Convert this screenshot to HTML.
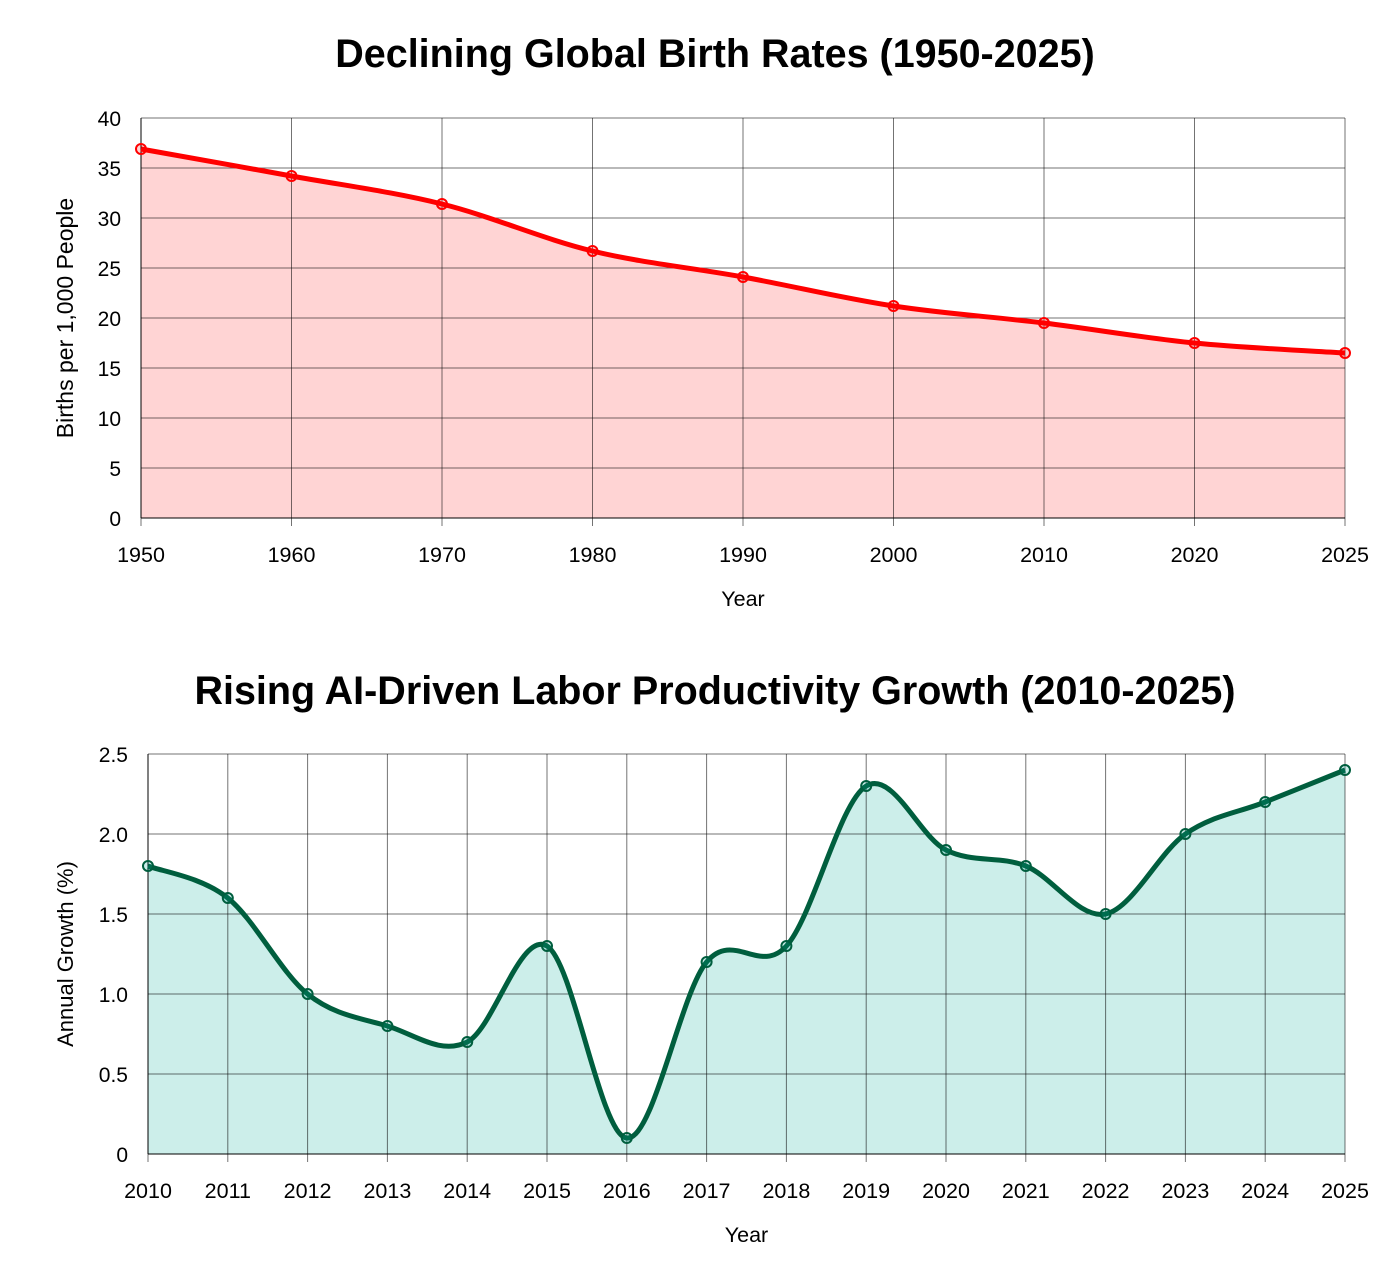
<!DOCTYPE html>
<html><head><meta charset="utf-8"><style>
body{margin:0;background:#fff;font-family:"Liberation Sans",Arial,sans-serif}
svg text{font-family:"Liberation Sans",Arial,sans-serif}
</style></head><body>
<svg id="c" width="1388" height="1261" xmlns="http://www.w3.org/2000/svg"></svg>
<script>
const years1 = ["1950","1960","1970","1980","1990","2000","2010","2020","2025"];
const births = [36.9,34.2,31.4,26.7,24.1,21.2,19.5,17.5,16.5];
const yTicks1 = [0,5,10,15,20,25,30,35,40];
const years2 = ["2010","2011","2012","2013","2014","2015","2016","2017","2018","2019","2020","2021","2022","2023","2024","2025"];
const growth = [1.8,1.6,1.0,0.8,0.7,1.3,0.1,1.2,1.3,2.3,1.9,1.8,1.5,2.0,2.2,2.4];
const yTicks2 = [0,0.5,1.0,1.5,2.0,2.5];
const yLabels2 = ["0","0.5","1.0","1.5","2.0","2.5"];

const NS="http://www.w3.org/2000/svg";
const svg=document.getElementById('c');
function mk(tag,attrs,parent){const e=document.createElementNS(NS,tag);for(const k in attrs)e.setAttribute(k,attrs[k]);(parent||svg).appendChild(e);return e;}
function curve(pts){
  let d=`M${pts[0][0]},${pts[0][1]}`;
  for(let i=0;i<pts.length-1;i++){
    const p0=pts[i-1]||pts[i],p1=pts[i],p2=pts[i+1],p3=pts[i+2]||p2;
    const c1=[p1[0]+(p2[0]-p0[0])/6,p1[1]+(p2[1]-p0[1])/6];
    const c2=[p2[0]-(p3[0]-p1[0])/6,p2[1]-(p3[1]-p1[1])/6];
    d+=`C${c1[0]},${c1[1]} ${c2[0]},${c2[1]} ${p2[0]},${p2[1]}`;
  }
  return d;
}
function chart(o){
  const g=mk('g',{});
  
  
  const n=o.cats.length;
  const x=i=>o.x0+(o.x1-o.x0)*i/(n-1);
  const y=v=>o.y1-(o.y1-o.y0)*(v-o.ymin)/(o.ymax-o.ymin);
  const t=mk('text',{x:o.tx,y:o.ty,'text-anchor':'middle','font-size':o.tfs,'font-weight':'bold',fill:'#000'},g);
  t.textContent=o.title;
  
  
  const pts=o.vals.map((v,i)=>[x(i),y(v)]);
  const d=curve(pts);
  const area=mk('path',{d:d+`L${x(n-1)},${y(o.ymin)}L${x(0)},${y(o.ymin)}Z`,fill:o.fill},g);
  
  
  o.ticks.forEach((tv,i)=>{
    const l=mk('line',{x1:o.x0,x2:o.x1,y1:y(tv),y2:y(tv),stroke:'#000','stroke-opacity':0.55,'stroke-width':1},g);
    
    
    const tx=mk('text',{x:o.x0-20,y:y(tv)+8,'text-anchor':'end','font-size':21,fill:'#000'},g);
    tx.textContent=o.tickLabels[i];
    
    
  });
  o.cats.forEach((c,i)=>{
    const l=mk('line',{x1:x(i),x2:x(i),y1:o.y0,y2:o.y1+8,stroke:'#000','stroke-opacity':0.55,'stroke-width':1},g);
    
    
    const tx=mk('text',{x:x(i),y:o.y1+44,'text-anchor':'middle','font-size':21.5,fill:'#000'},g);
    tx.textContent=c;
    
    
  });
  const ax=mk('line',{x1:o.x0,x2:o.x1,y1:o.y1,y2:o.y1,stroke:'#000','stroke-width':1},g);
  
  
  const ay=mk('line',{x1:o.x0,x2:o.x0,y1:o.y0,y2:o.y1,stroke:'#000','stroke-width':1},g);
  
  
  const line=mk('path',{d:d,fill:'none',stroke:o.stroke,'stroke-width':5},g);
  
  
  pts.forEach(p=>{
    const c=mk('circle',{cx:p[0],cy:p[1],r:5,fill:o.fill,stroke:o.stroke,'stroke-width':2},g);
    
    
  });
  const xt=mk('text',{x:(o.x0+o.x1)/2,y:o.y1+88,'text-anchor':'middle','font-size':21.5,fill:'#000'},g);
  xt.textContent='Year';
  
  
  const yc=(o.y0+o.y1)/2;
  const yt=mk('text',{x:o.ytx,y:yc,'text-anchor':'middle','font-size':o.yfs,fill:'#000',transform:`rotate(-90 ${o.ytx} ${yc})`},g);
  yt.textContent=o.ytitle;
  
  
}
chart({name:'birth-rate-chart',title:'Declining Global Birth Rates (1950-2025)',tx:715,ty:67,tfs:39.5,
  cats:years1,vals:births,ticks:yTicks1,tickLabels:yTicks1.map(String),ymin:0,ymax:40,
  x0:141,x1:1345,y0:118,y1:518,fill:'rgba(255,0,0,0.17)',stroke:'#ff0000',ytitle:'Births per 1,000 People',ytx:73,yfs:23});
chart({name:'productivity-chart',title:'Rising AI-Driven Labor Productivity Growth (2010-2025)',tx:715,ty:704,tfs:39.5,
  cats:years2,vals:growth,ticks:yTicks2,tickLabels:yLabels2,ymin:0,ymax:2.5,
  x0:148,x1:1345,y0:754,y1:1154,fill:'rgba(0,170,150,0.2)',stroke:'#005e3e',ytitle:'Annual Growth (%)',ytx:73,yfs:22});
</script>
</body></html>
